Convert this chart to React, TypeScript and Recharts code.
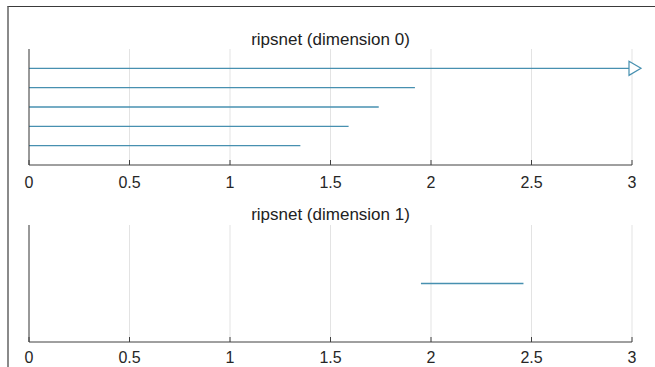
import { CartesianGrid, Line, LineChart, XAxis, YAxis } from "recharts";

// barcode: each bar is an interval [birth, death] drawn on its own row
const xTicks = [0, 0.5, 1, 1.5, 2, 2.5, 3];
const xMax = 3;

const dim0Rows = [5, 4, 3, 2, 1];
const dim0Births = [0, 0, 0, 0, 0];
const dim0Deaths = [Infinity, 1.92, 1.74, 1.59, 1.35];

const dim1Rows = [1];
const dim1Births = [1.95];
const dim1Deaths = [2.46];

const BAR_COLOR = "#4790b0";
const AXIS_COLOR = "#404040";
const FONT = '"Liberation Sans", Arial, Helvetica, sans-serif';

type Bar = { id: string; infinite: boolean; points: { x: number; y: number }[] };

function buildBars(prefix: string, rows: number[], births: number[], deaths: number[]): Bar[] {
  return rows.map((row, i) => {
    const infinite = !Number.isFinite(deaths[i]);
    return {
      id: `${prefix}-${i}`,
      infinite,
      points: [
        { x: births[i], y: row },
        { x: infinite ? xMax : deaths[i], y: row },
      ],
    };
  });
}

const dim0Bars = buildBars("d0", dim0Rows, dim0Births, dim0Deaths);
const dim1Bars = buildBars("d1", dim1Rows, dim1Births, dim1Deaths);

function InwardTick(props: any) {
  const { x, y, payload, labelOffset = 23 } = props;
  return (
    <g>
      <line x1={x} x2={x} y1={y} y2={y - 5} stroke={AXIS_COLOR} />
      <text x={x} y={y + labelOffset} textAnchor="middle" fontSize={16} fontFamily={FONT} fill="#262626">
        {payload.value}
      </text>
    </g>
  );
}

function arrowDot(bar: Bar) {
  return (props: any) => {
    const { cx, cy, index } = props;
    if (!bar.infinite || index !== 1) return <g key={`${bar.id}-dot-${index}`} />;
    const pts = `${cx - 3},${cy - 7} ${cx + 9},${cy} ${cx - 3},${cy + 7}`;
    return (
      <polygon key={`${bar.id}-dot-${index}`} points={pts} fill="#fff" stroke={BAR_COLOR} strokeWidth={1.2} />
    );
  };
}

type PanelProps = {
  bars: Bar[];
  yDomain: [number, number];
  height: number;
  labelOffset: number;
  margin: { top: number; right: number; left: number; bottom: number };
};

function BarcodePanel({ bars, yDomain, height, labelOffset, margin }: PanelProps) {
  return (
    <LineChart width={655} height={height} margin={margin} style={{ overflow: "visible" }}>
      <CartesianGrid horizontal={false} stroke="#e3e3e3" />
      <XAxis
        type="number"
        dataKey="x"
        domain={[0, xMax]}
        ticks={xTicks}
        height={25}
        tickSize={0}
        tickMargin={0}
        tickLine={false}
        tick={<InwardTick labelOffset={labelOffset} />}
        axisLine={{ stroke: AXIS_COLOR }}
      />
      <YAxis
        type="number"
        dataKey="y"
        domain={yDomain}
        width={1}
        tick={false}
        tickLine={false}
        axisLine={{ stroke: AXIS_COLOR }}
      />
      {bars.map((bar) => (
        <Line
          key={bar.id}
          data={bar.points}
          dataKey="y"
          type="linear"
          stroke={BAR_COLOR}
          strokeWidth={1.4}
          dot={arrowDot(bar)}
          activeDot={false}
          isAnimationActive={false}
        />
      ))}
    </LineChart>
  );
}

const titleStyle = {
  position: "absolute" as const,
  left: 29,
  width: 603,
  height: 20,
  lineHeight: "20px",
  textAlign: "center" as const,
  fontFamily: FONT,
  fontSize: 17,
  color: "#222",
};

export default function App() {
  return (
    <div style={{ position: "absolute", left: 0, top: 0, width: 655, height: 367, background: "#fff", overflow: "hidden" }}>
      <div
        style={{
          position: "absolute",
          left: 7,
          top: 6,
          width: 648,
          height: 361,
          boxSizing: "border-box",
          borderTop: "1px solid #3a3a3a",
          borderLeft: "2px solid #8a8a8a",
        }}
      />
      <div style={{ ...titleStyle, top: 30 }}>ripsnet (dimension 0)</div>
      <div style={{ position: "absolute", left: 0, top: 0 }}>
        <BarcodePanel
          bars={dim0Bars}
          yDomain={[0, 6]}
          height={200}
          labelOffset={23}
          margin={{ top: 49, right: 23, left: 28, bottom: 10 }}
        />
      </div>
      <div style={{ ...titleStyle, top: 205 }}>ripsnet (dimension 1)</div>
      <div style={{ position: "absolute", left: 0, top: 200 }}>
        <BarcodePanel
          bars={dim1Bars}
          yDomain={[0, 2]}
          height={167}
          labelOffset={21}
          margin={{ top: 25, right: 23, left: 28, bottom: 0 }}
        />
      </div>
    </div>
  );
}
